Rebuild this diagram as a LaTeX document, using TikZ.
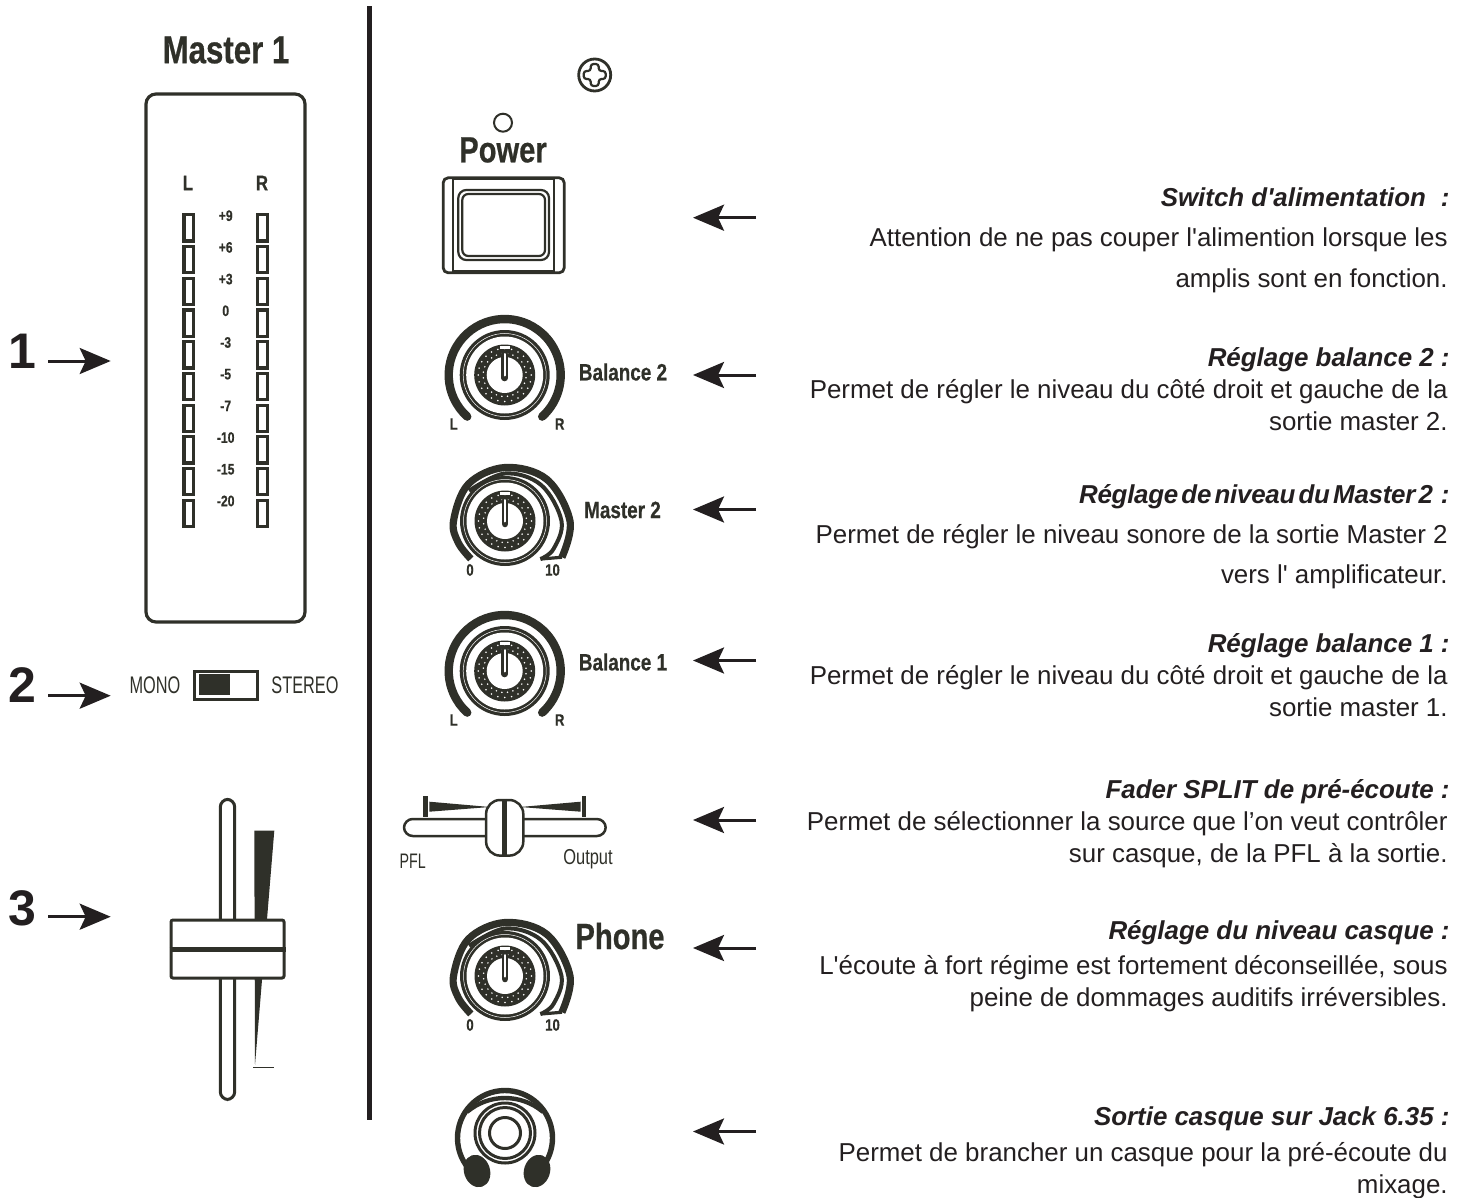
\documentclass[tikz,border=0pt]{standalone}
\usepackage{fontspec}
\setmainfont{Liberation Sans}[Ligatures=TeXOff]
\newfontfamily\condbold{Liberation Sans Bold}[FakeStretch=0.8,FakeBold=0.6]
\newfontfamily\condreg{Liberation Sans}[FakeStretch=0.68]
\newfontfamily\tighthead{Liberation Sans Bold Italic}[LetterSpace=-1]
\usetikzlibrary{arrows.meta,positioning}
\definecolor{artink}{HTML}{2F3029}
\definecolor{txtink}{HTML}{231F20}
\tikzset{
  pointer/.style={draw=txtink,line width=1.5pt,-{Stealth[length=15.5pt,width=13pt,inset=3pt]}},
  ledbox/.style={draw=artink,line width=1.6pt,inner sep=0pt,minimum width=4.85pt,minimum height=13.1pt},
  scalelab/.style={text=artink,font=\condbold\fontsize{7.6}{8}\selectfont,inner sep=0pt},
  knoblab/.style={text=artink,font=\condbold\fontsize{8.2}{9}\selectfont,inner sep=0pt},
  ctrllab/.style={text=artink,font=\condbold\fontsize{11.8}{12}\selectfont,inner sep=0pt},
  biglab/.style={text=artink,font=\condbold\fontsize{18.2}{18}\selectfont,inner sep=0pt},
  thinlab/.style={text=artink,font=\condreg\fontsize{12}{12}\selectfont,inner sep=0pt},
  numlab/.style={text=txtink,font=\bfseries\fontsize{25}{25}\selectfont,inner sep=0pt},
  headline/.style={text=txtink,anchor=base east,inner sep=0pt,font=\bfseries\itshape\fontsize{12.95}{13}\selectfont},
  bodyline/.style={text=txtink,anchor=base east,inner sep=0pt,font=\fontsize{12.95}{13}\selectfont},
  pics/knobcore/.style={code={
    \fill[artink] (0,0) circle (45);
    \fill[white] (0,0) circle (38.5);
    \draw[white,line width=.25pt] (0,0) circle (41.5);
    \fill[artink] (0,0) circle (30.5);
    \foreach \a in {0,15,...,345} {
      \fill[white] (\a:26.5) circle (.85);
      \fill[white] (\a+7.5:21.5) circle (.85);
    }
    \fill[white] (0,0) circle (18);
    \fill[white] (-5,26) rectangle (5,29);
    \draw[artink,line width=3.3pt,line cap=round] (0,-3) -- (0,21);
    \draw[white,line width=1pt,line cap=round] (0,-.5) -- (0,21);
  }},
  pics/balknob/.style={code={
    \pic {knobcore};
    \draw[artink,line width=4.2pt,line cap=round] (228:56) arc (228:-48:56);
    \node[knoblab](-L) at (-51,-49){L};
    \node[knoblab](-R) at (55,-49){R};
  }},
  pics/levelknob/.style={code={
    \pic {knobcore};
    % outer spiral, then the inner run back from the foot
    \draw[artink,line width=3.6pt] plot[smooth,tension=.6] coordinates {(228:51) (205:51.5) (180:51.5) (135:52) (90:53.5) (45:59) (0:65) (-32.5:67.5)};
    \draw[artink,line width=2pt] plot[smooth,tension=.6] coordinates {(140:47) (90:47.5) (45:51) (0:56.5) (-30:56) (-47:52)};
    \draw[artink,line width=1.6pt] (-47:52) -- (-32.5:67.5);
    \node[knoblab](-Z) at (-35,-49){0};
    \node[knoblab](-T) at (47.5,-49){10};
  }}
}
\begin{document}
\begin{tikzpicture}[x=.5pt,y=.5pt]
\useasboundingbox (0,0) rectangle (1467,-1198);
\fill[txtink] (366.5,-6) rectangle (372,-1120);
% left column
\node[biglab,font=\condbold\fontsize{19.5}{20}\selectfont](MST) at (226,-50){Master 1};
\node[draw=artink,line width=1.6pt,rounded corners=5pt,inner sep=0pt,minimum width=79.5pt,minimum height=264pt](MTR) at (225.5,-358){};
\node[knoblab,font=\condbold\fontsize{10.5}{11}\selectfont](HL) at (188,-183){L};
\node[knoblab,font=\condbold\fontsize{10.5}{11}\selectfont](HR) at (262,-183){R};
\node[ledbox](LL1) at (188.8,-228){};
\node[ledbox](LR1) at (262.4,-228){};
\foreach \p/\n in {1/2,2/3,3/4,4/5,5/6,6/7,7/8,8/9,9/10} {
  \node[ledbox,below of=LL\p,node distance=15.85pt](LL\n){};
  \node[ledbox,below of=LR\p,node distance=15.85pt](LR\n){};
}
\foreach \v [count=\i] in {+9,+6,+3,0,-3,-5,-7,-10,-15,-20}
  \node[scalelab](SC\i) at (225.7,{-215.7-31.7*(\i-1)}){\v};
\node[numlab](NM1) at (22,-351){1};
\node[numlab](NM2) at (22,-685){2};
\node[numlab](NM3) at (22,-908){3};
\foreach \n/\y in {1/361,2/695.7,3/916.7} {
  \coordinate (PS\n) at (48,-\y);
  \coordinate (PE\n) at (110.7,-\y);
  \draw[pointer] (PS\n) -- (PE\n);
}
% mono switch
\node[thinlab](MONO) at (155,-685){MONO};
\node[draw=artink,line width=1.5pt,inner sep=0pt,minimum width=31.5pt,minimum height=14pt](SWM) at (225.5,-685){};
\fill[artink] (199,-674) rectangle (230,-695);
\node[thinlab](STER) at (305,-685){STEREO};
% channel fader
\fill[artink] (254.3,-830.7) -- (274.3,-830.7) -- (255,-1065) -- cycle;
\draw[artink,line width=.75pt] (253,-1067.7) -- (273.7,-1067.7);
\draw[artink,line width=1.5pt,rounded corners=3.9pt] (220.3,-799.3) rectangle (234.7,-1099.5);
\node[draw=artink,fill=white,line width=1.5pt,rounded corners=1pt,inner sep=0pt,minimum width=56.5pt,minimum height=29pt](FCP) at (227.5,-949){};
\draw[artink,line width=2.5pt] (FCP.west) -- (FCP.east);
% right column, controls
\draw[artink,line width=1.4pt] (594.7,-75) circle (16);
\draw[artink,line width=1.1pt,rounded corners=1.4pt] (590.7,-64) -- (598.7,-64) -- (598.7,-71) -- (605.7,-71) -- (605.7,-79) -- (598.7,-79) -- (598.7,-86) -- (590.7,-86) -- (590.7,-79) -- (583.7,-79) -- (583.7,-71) -- (590.7,-71) -- cycle;
\draw[artink,line width=1pt] (503,-122.7) circle (9);
\node[biglab](PWR) at (503,-150){Power};
\node[draw=artink,line width=1.4pt,rounded corners=2.5pt,inner sep=0pt,minimum width=60.5pt,minimum height=47.5pt](PSW) at (503.7,-225.3){};
\draw[artink,line width=1pt] (453,-178) -- (453,-273);
\draw[artink,line width=1pt] (554,-178) -- (554,-273);
\draw[artink,line width=1pt] (453,-179.5) -- (554,-179.5);
\draw[artink,line width=1.5pt] (453,-271.5) -- (554,-271.5);
\draw[artink,line width=1.1pt,rounded corners=4pt] (458.3,-190) rectangle (549,-260);
\draw[artink,line width=1.1pt,rounded corners=3pt] (462.3,-194) rectangle (545,-256);
\pic (KB2) at (504.7,-375) {balknob};
\node[ctrllab](LB2) at (623,-372){Balance 2};
\pic (KM2) at (505,-521) {levelknob};
\node[ctrllab](LM2) at (622.5,-510){Master 2};
\pic (KB1) at (504.7,-671) {balknob};
\node[ctrllab](LB1) at (623,-662){Balance 1};
% split fader
\fill[artink] (429.3,-801.7) -- (490,-807) -- (429.3,-811.7) -- cycle;
\fill[artink] (580.7,-801.7) -- (520,-807) -- (580.7,-811.7) -- cycle;
\draw[artink,line width=2.4pt] (425.7,-796) -- (425.7,-816.7);
\draw[artink,line width=2.4pt] (584,-796) -- (584,-816.7);
\draw[artink,line width=1.25pt,rounded corners=4.4pt] (404,-819) rectangle (605.7,-836);
\node[draw=artink,fill=white,line width=1.25pt,rounded corners=7pt,inner sep=0pt,minimum width=18.6pt,minimum height=27.8pt](SPC) at (504.7,-827.8){};
\draw[artink,line width=2.6pt] (SPC.north) -- (SPC.south);
\node[thinlab,font=\condreg\fontsize{10.5}{11}\selectfont](PFL) at (412.7,-861){PFL};
\node[thinlab,xscale=1.12,font=\condreg\fontsize{10.8}{11}\selectfont](OUT) at (588,-859){Output};
\pic (KPH) at (505,-976) {levelknob};
\node[biglab](LPH) at (620,-936){Phone};
% jack
\draw[artink,line width=1.5pt] (505,-1133) circle (30);
\draw[artink,line width=1.5pt] (505,-1133) circle (25.5);
\draw[artink,line width=1.5pt] (505,-1133) circle (15.5);
\draw[artink,line width=2.7pt] (505,-1138)++(220:47.5) arc (220:-40:47.5);
\draw[artink,line width=2.2pt] (505,-1157)++(130:59) arc (130:50:59);
\fill[artink,rotate around={18:(477,-1171)}] (477,-1171) ellipse (13 and 16.5);
\fill[artink,rotate around={-18:(537,-1171)}] (537,-1171) ellipse (13 and 16.5);
% arrows to the controls
\foreach \n/\y in {1/217.7,2/375,3/509.5,4/660.5,5/820,6/948,7/1131.5} {
  \coordinate (AS\n) at (756,-\y);
  \coordinate (AE\n) at (693,-\y);
  \draw[pointer] (AS\n) -- (AE\n);
}
% texts
\node[headline](T1) at (1450,-207){Switch d'alimentation\hspace{7.5pt}:};
\node[bodyline](T1a) at (1448,-247){Attention de ne pas couper l'alimention lorsque les};
\node[bodyline](T1b) at (1448,-287){amplis sont en fonction.};
\node[headline](T2) at (1450,-366){Réglage balance 2 :};
\node[bodyline](T2a) at (1448,-398){Permet de régler le niveau du côté droit et gauche de la};
\node[bodyline](T2b) at (1448,-430){sortie master 2.};
\node[headline,font=\tighthead\fontsize{12.95}{13}\selectfont](T3) at (1450,-503){\spaceskip=1.6pt Réglage de niveau du Master 2\hspace{4pt}:};
\node[bodyline](T3a) at (1448,-543){Permet de régler le niveau sonore de la sortie Master 2};
\node[bodyline](T3b) at (1448,-583){vers l' amplificateur.};
\node[headline](T4) at (1450,-652){Réglage balance 1 :};
\node[bodyline](T4a) at (1448,-684){Permet de régler le niveau du côté droit et gauche de la};
\node[bodyline](T4b) at (1448,-716){sortie master 1.};
\node[headline](T5) at (1450,-798){Fader SPLIT de pré-écoute :};
\node[bodyline](T5a) at (1448,-830){Permet de sélectionner la source que l’on veut contrôler};
\node[bodyline](T5b) at (1448,-862){sur casque, de la PFL à la sortie.};
\node[headline](T6) at (1450,-939){Réglage du niveau casque :};
\node[bodyline](T6a) at (1448,-974){L'écoute à fort régime est fortement déconseillée, sous};
\node[bodyline](T6b) at (1448,-1006){peine de dommages auditifs irréversibles.};
\node[headline](T7) at (1450,-1125){Sortie casque sur Jack 6.35 :};
\node[bodyline](T7a) at (1448,-1161){Permet de brancher un casque pour la pré-écoute du};
\node[bodyline](T7b) at (1448,-1193){mixage.};
\end{tikzpicture}
\end{document}
